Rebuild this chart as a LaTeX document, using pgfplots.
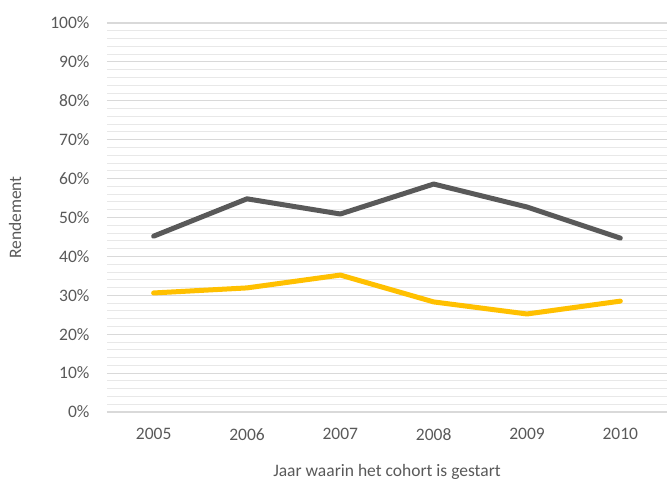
\documentclass[border=0pt]{standalone}
\usepackage{fontspec}
\setmainfont{Carlito}
\usepackage{pgfplots}
\pgfplotsset{compat=1.18}
\definecolor{txt}{HTML}{595959}
\definecolor{darkline}{HTML}{595959}
\definecolor{gold}{HTML}{FFC000}
\definecolor{gridmaj}{HTML}{D9D9D9}
\definecolor{gridmin}{HTML}{E8E8E8}
\begin{document}
\begin{tikzpicture}
\begin{axis}[
  name=ax, at={(0,0)}, anchor=south west,
  scale only axis, width=560pt, height=389pt,
  xmin=-0.5, xmax=5.5, ymin=0, ymax=100,
  xtick={0,1,2,3,4,5},
  xticklabels={2005,2006,2007,2008,2009,2010},
  ytick={0,10,...,100},
  minor ytick={0,2,...,100},
  yticklabel={\pgfmathprintnumber{\tick}\%},
  /pgf/number format/assume math mode=true,
  ymajorgrids, yminorgrids,
  major grid style={color=gridmaj, line width=1.2pt},
  minor grid style={color=gridmin, line width=0.9pt},
  axis line style={draw=none},
  major tick style={draw=none}, minor tick style={draw=none},
  tick label style={font=\fontsize{17.5}{20}\selectfont, text=txt},
  yticklabel style={xshift=-14pt},
  xticklabel style={yshift=-13pt},
  xlabel={Jaar waarin het cohort is gestart},
  ylabel={Rendement},
  every axis x label/.style={at={(rel axis cs:0.5,0)}, yshift=-60pt, anchor=center,
    font=\fontsize{17.5}{20}\selectfont, text=txt},
  every axis y label/.style={at={(rel axis cs:0,0.5)}, xshift=-92pt, rotate=90, anchor=center,
    font=\fontsize{17.5}{20}\selectfont, text=txt},
  clip=false,
]
\addplot[darkline, line width=5pt, line cap=round, line join=round] coordinates {
  (0,45.2) (1,54.8) (2,50.9) (3,58.6) (4,52.7) (5,44.7)};
\addplot[gold, line width=5pt, line cap=round, line join=round] coordinates {
  (0,30.6) (1,31.9) (2,35.2) (3,28.3) (4,25.2) (5,28.5)};
\end{axis}
\pgfresetboundingbox
\path[use as bounding box] (-107pt,-73pt) rectangle (560pt,412pt);
\end{tikzpicture}
\end{document}
